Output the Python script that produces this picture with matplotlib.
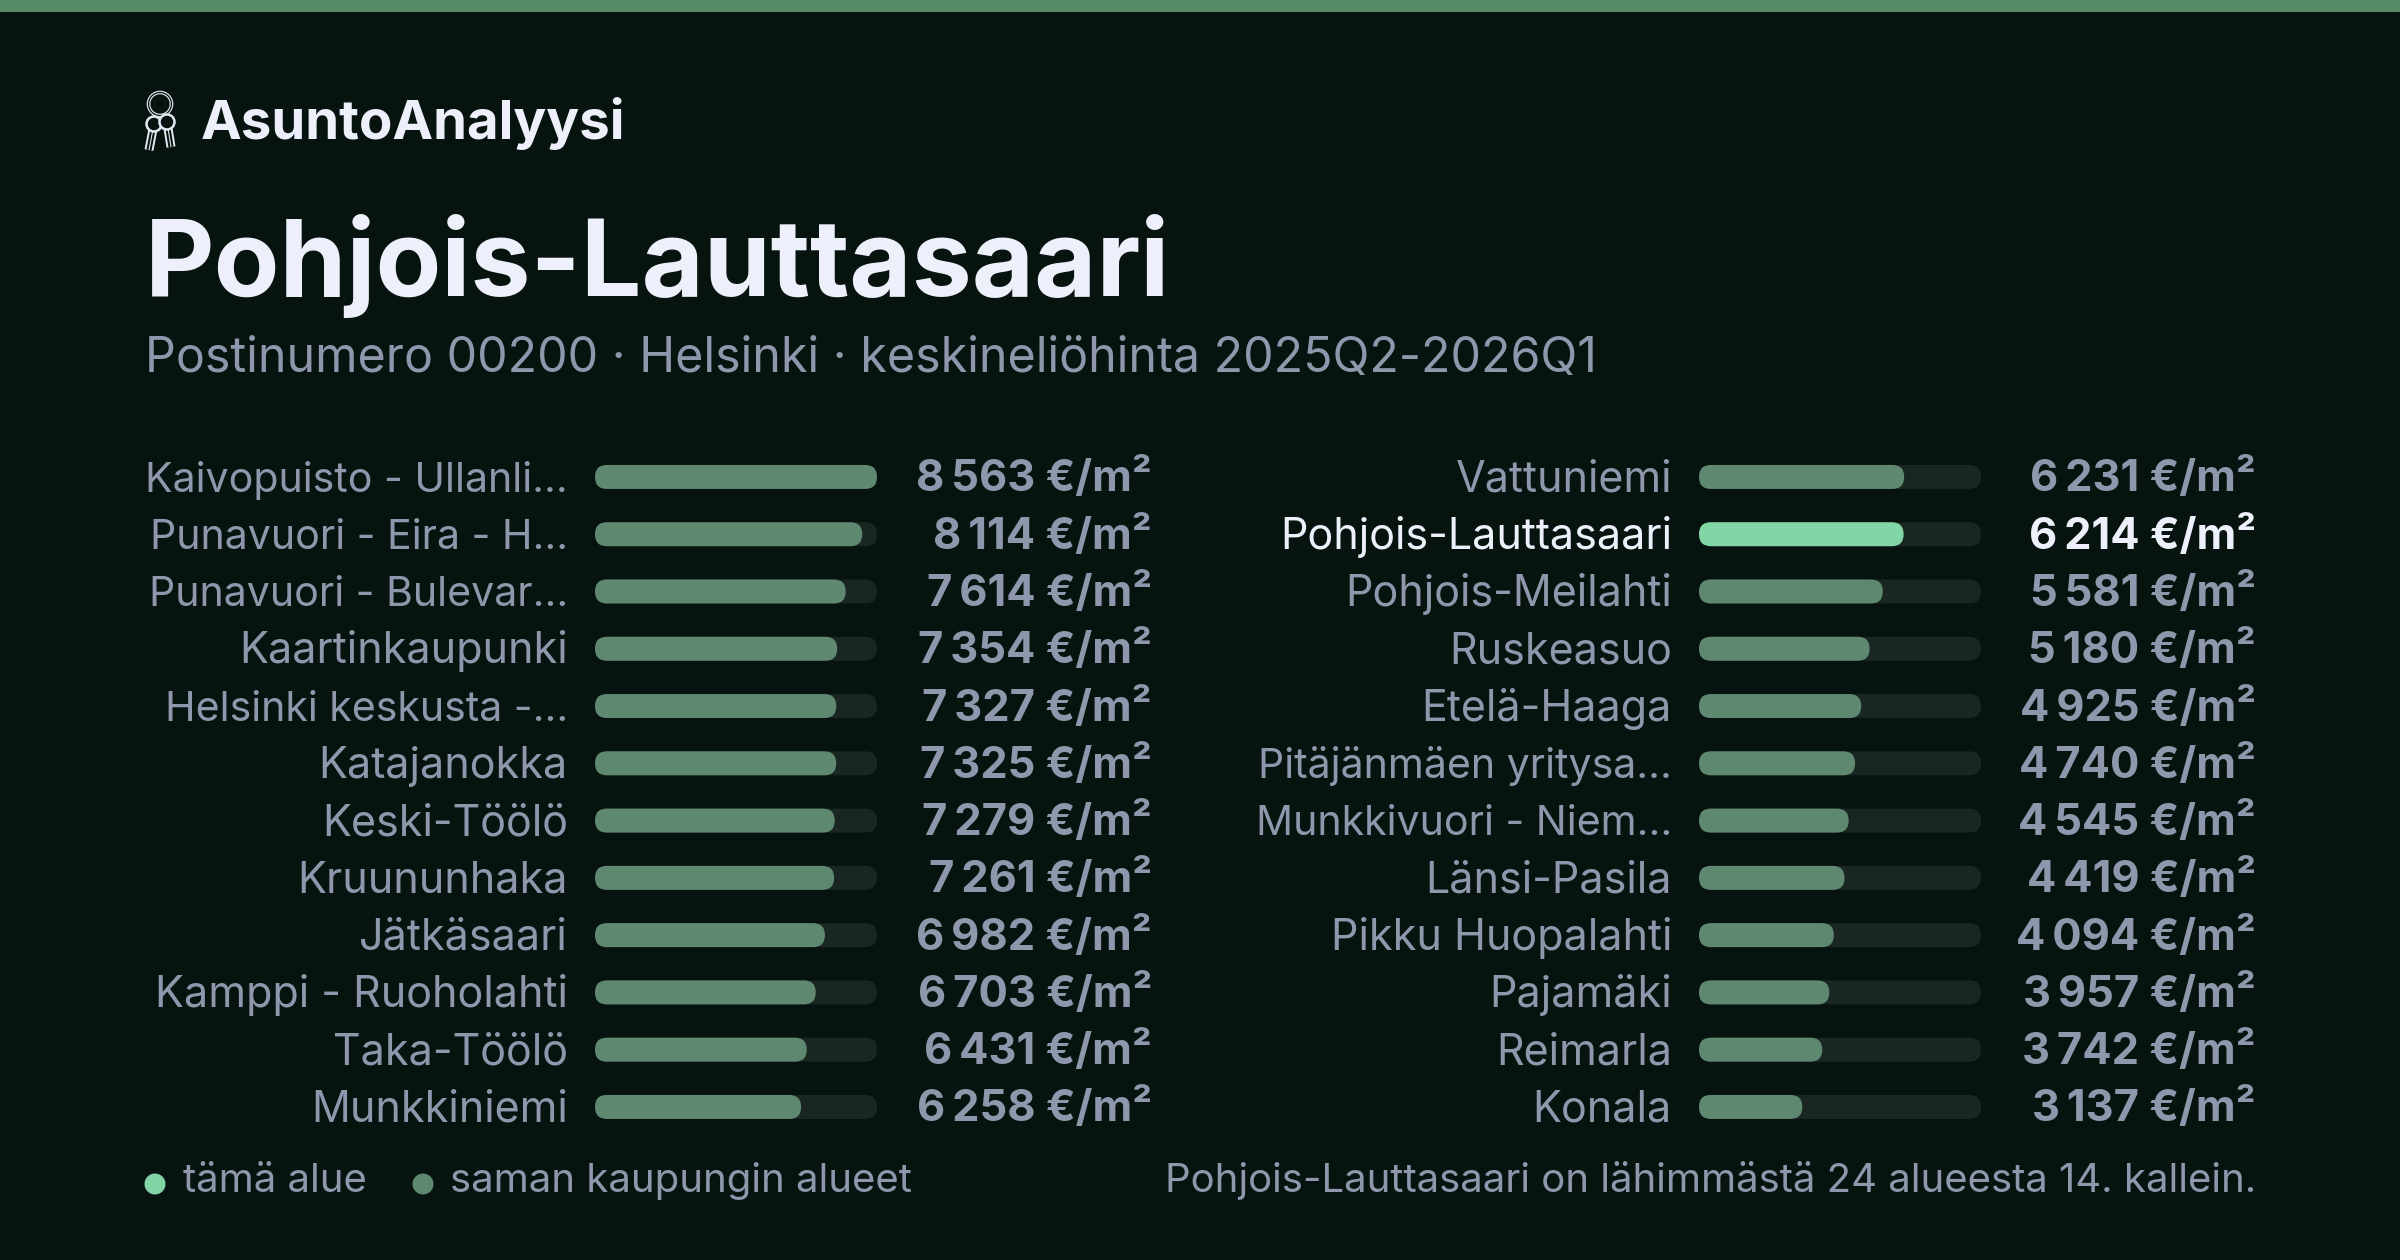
import matplotlib
matplotlib.use("Agg")
import matplotlib.pyplot as plt
from matplotlib.patches import FancyBboxPatch, Circle, Rectangle

# Neighbourhood prices, EUR per square metre
left_names = ["Kaivopuisto - Ullanli…", "Punavuori - Eira - H…", "Punavuori - Bulevar…",
              "Kaartinkaupunki", "Helsinki keskusta -…", "Katajanokka", "Keski-Töölö",
              "Kruununhaka", "Jätkäsaari", "Kamppi - Ruoholahti", "Taka-Töölö", "Munkkiniemi"]
left_values = [8563, 8114, 7614, 7354, 7327, 7325, 7279, 7261, 6982, 6703, 6431, 6258]

right_names = ["Vattuniemi", "Pohjois-Lauttasaari", "Pohjois-Meilahti", "Ruskeasuo", "Etelä-Haaga",
               "Pitäjänmäen yritysa…", "Munkkivuori - Niem…", "Länsi-Pasila", "Pikku Huopalahti",
               "Pajamäki", "Reimarla", "Konala"]
right_values = [6231, 6214, 5581, 5180, 4925, 4740, 4545, 4419, 4094, 3957, 3742, 3137]

highlight = "Pohjois-Lauttasaari"
max_value = max(left_values)

BG = "#07130f"
TOP = "#548a66"
BAR = "#5f8871"
HI = "#82d6a5"
TRACK = "#1a2621"
TXT = "#8f97ad"
WHITE = "#edf0fb"

plt.rcParams["font.family"] = ["Inter", "DejaVu Sans"]

W, H = 2400, 1260
fig = plt.figure(figsize=(W / 100, H / 100), dpi=100, facecolor=BG)

# full figure axes in pixels, for the texts and the logo
page = fig.add_axes([0, 0, 1, 1])
page.set_xlim(0, W)
page.set_ylim(H, 0)
page.axis("off")

page.add_patch(Rectangle((0, 0), W, 12, color=TOP, lw=0))

# key icon: light stroke with a dark core gives the double outline
ic = "#e4e8f2"
page.add_patch(Circle((160, 104), 11.5, fc="none", ec=ic, lw=2.6))
page.add_patch(Circle((160, 104), 11.5, fc="none", ec=BG, lw=0.9))


def key(hx, hy, tx, ty, z):
    page.plot([hx, tx], [hy, ty], color=ic, lw=6.5, solid_capstyle="butt", zorder=z)
    page.plot([hx, tx], [hy, ty], color=BG, lw=3.7, solid_capstyle="butt", zorder=z)
    page.plot([hx, tx], [hy, ty], color=ic, lw=0.8, solid_capstyle="butt", zorder=z)
    page.add_patch(Circle((hx, hy), 7.5, fc=BG, ec=ic, lw=1.8, zorder=z))


key(154, 124, 149, 150, 3)
key(167, 122, 171, 147, 4)

page.text(201, 139, "AsuntoAnalyysi", color=WHITE, fontsize=39.3, fontweight="bold", va="baseline")
page.text(145, 296, "Pohjois-Lauttasaari", color=WHITE, fontsize=77.3, fontweight="bold", va="baseline")
page.text(145, 372, "Postinumero 00200 · Helsinki · keskineliöhinta 2025Q2-2026Q1", color=TXT, fontsize=34.8, va="baseline")


def column(names, values, bar_x, label_x, value_x):
    ax = fig.add_axes([bar_x / W, 1 - 1135.6 / H, 282 / W, 687.3 / H])
    ax.set_xlim(0, max_value)
    ax.set_ylim(len(names) - 0.5, -0.5)
    ax.axis("off")
    rx = 12 / 282 * max_value
    asp = (1 / 57.27 * 282) / max_value
    hh = 24 / 57.27
    for i, (name, v) in enumerate(zip(names, values)):
        hi = name == highlight
        ax.add_patch(FancyBboxPatch((0, i - hh / 2), max_value, hh, boxstyle=f"round,pad=0,rounding_size={rx}",
                                    mutation_aspect=asp, fc=TRACK, ec="none"))
        ax.add_patch(FancyBboxPatch((0, i - hh / 2), v, hh, boxstyle=f"round,pad=0,rounding_size={rx}",
                                    mutation_aspect=asp, fc=HI if hi else BAR, ec="none"))
        y = 491.5 + i * 57.27
        # Inter's ellipsis is wider than the original's, so shortened names get a smaller size
        size = 29.6 if name.endswith("…") else 31
        page.text(label_x, y, name, color=WHITE if hi else TXT, fontsize=size, ha="right", va="baseline")
        s = f"{v // 1000}\u202f{v % 1000:03d} €/m²"
        page.text(value_x, y, s, color=WHITE if hi else TXT, fontsize=31.3, fontweight="bold", ha="right", va="baseline")


column(left_names, left_values, 595, 568, 1152)
column(right_names, right_values, 1699, 1672, 2256)

# legend and note
page.add_patch(Circle((155, 1184), 10.5, color=HI, lw=0))
page.text(183, 1192, "tämä alue", color=TXT, fontsize=28.9, va="baseline")
page.add_patch(Circle((423, 1184), 10.5, color=BAR, lw=0))
page.text(450, 1192, "saman kaupungin alueet", color=TXT, fontsize=28.9, va="baseline")
page.text(2256, 1192, "Pohjois-Lauttasaari on lähimmästä 24 alueesta 14. kallein.", color=TXT, fontsize=28.9, ha="right", va="baseline")

fig.savefig("out.png", dpi=100, facecolor=BG)
